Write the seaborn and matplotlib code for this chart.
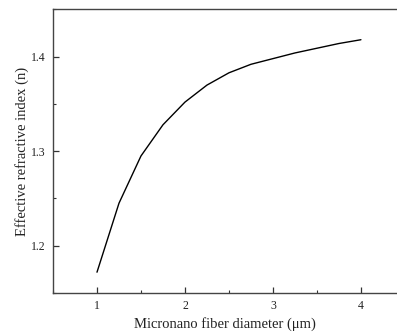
import matplotlib
matplotlib.use("Agg")
import matplotlib.pyplot as plt
import seaborn as sns
import pandas as pd
from matplotlib.ticker import MultipleLocator

# Fiber diameter (um) and computed effective refractive index
diameter = [1.0, 1.25, 1.5, 1.75, 2.0, 2.25, 2.5, 2.75, 3.0, 3.25, 3.5, 3.75, 4.0]
n_eff = [1.172, 1.245, 1.295, 1.328, 1.352, 1.370, 1.383, 1.392, 1.398, 1.404, 1.409, 1.414, 1.418]

df = pd.DataFrame({"diameter": diameter, "n_eff": n_eff})

sns.set_style("ticks")
plt.rcParams["font.family"] = ["Liberation Serif", "DejaVu Serif"]
plt.rcParams["mathtext.fontset"] = "stix"

fig = plt.figure(figsize=(3.97, 3.34), dpi=100)
ax = fig.add_axes([0.1335, 0.1228, 0.8665, 0.8488])

sns.lineplot(data=df, x="diameter", y="n_eff", ax=ax, color="black", linewidth=1.0)

ax.set_xlim(0.5, 4.41)
ax.set_ylim(1.15, 1.45)
ax.xaxis.set_major_locator(MultipleLocator(1))
ax.xaxis.set_minor_locator(MultipleLocator(0.5))
ax.yaxis.set_major_locator(MultipleLocator(0.1))
ax.yaxis.set_minor_locator(MultipleLocator(0.05))
ax.tick_params(which="both", direction="in", colors="#333333", labelcolor="#222222", labelsize=8.5)
ax.tick_params(which="major", length=4, width=0.9, pad=5)
ax.tick_params(which="minor", length=2, width=0.8)

for side in ["left", "bottom", "top"]:
    ax.spines[side].set_visible(True)
    ax.spines[side].set_color("#444444")
    ax.spines[side].set_linewidth(1.0)
ax.spines["right"].set_visible(False)

ax.set_xlabel("Micronano fiber diameter (μm)", fontsize=10.5, labelpad=4, color="#222222")
ax.set_ylabel("Effective refractive index (n)", fontsize=10.5, labelpad=2, color="#222222")

fig.savefig("out.png", dpi=100)
